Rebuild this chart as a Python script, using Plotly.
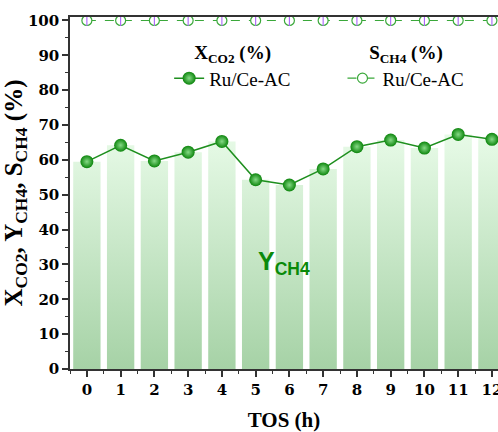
import plotly.graph_objects as go

tos = [0, 1, 2, 3, 4, 5, 6, 7, 8, 9, 10, 11, 12]
x_co2 = [59.5, 64.2, 59.7, 62.2, 65.3, 54.3, 52.8, 57.4, 63.8, 65.7, 63.4, 67.3, 65.9]
s_ch4 = [100, 100, 100, 100, 100, 100, 100, 100, 100, 100, 100, 100, 100]
y_ch4 = [59.5, 64.2, 59.7, 62.2, 65.3, 54.3, 52.8, 57.4, 63.8, 65.7, 63.4, 67.3, 65.9]
x_ticks = list(range(0, 13))
y_ticks = list(range(0, 101, 10))

BW = 0.81
serif = "DejaVu Serif"
times = "Liberation Serif"

# bar outlines built from the data (filled polygons with a vertical gradient)
bx, by = [], []
for xi, yi in zip(tos, y_ch4):
    bx += [xi - BW / 2, xi + BW / 2, xi + BW / 2, xi - BW / 2, xi - BW / 2, None]
    by += [0, 0, yi, yi, 0, None]

fig = go.Figure()
fig.add_trace(go.Scatter(
    x=bx, y=by, mode="lines", fill="toself", line=dict(width=0),
    fillgradient=dict(type="vertical", start=0, stop=68,
                      colorscale=[[0, "#a6d2a6"], [1, "#e8fbe8"]]),
    showlegend=False, hoverinfo="skip"))

fig.add_trace(go.Scatter(
    x=tos, y=x_co2, mode="lines+markers", name="Ru/Ce-AC",
    line=dict(color="#1e8f1e", width=1.5),
    marker=dict(size=13, color="#0c850c",
                gradient=dict(type="radial", color="#86da86"),
                line=dict(width=0)),
    legend="legend", cliponaxis=False))

fig.add_trace(go.Scatter(
    x=tos, y=s_ch4, mode="lines+markers", name="Ru/Ce-AC",
    line=dict(color="#3aa83a", width=1.2, dash="dash"),
    marker=dict(size=10, color="white", symbol="circle",
                line=dict(color="#3aa83a", width=1.2)),
    legend="legend2", cliponaxis=False))

fig.add_trace(go.Scatter(
    x=tos, y=s_ch4, mode="markers", showlegend=False, hoverinfo="skip",
    marker=dict(size=8, symbol="line-ns-open", line=dict(color="#3aa83a", width=1.1)),
    cliponaxis=False))

fig.add_annotation(x=5.85, y=30.5, xref="x", yref="y", showarrow=False,
                   text="<b>Y<sub>CH4</sub></b>",
                   font=dict(family="Liberation Sans", size=25, color="#0a8a0a"))

fig.update_layout(
    width=498, height=432,
    margin=dict(l=70, r=0, t=17, b=63),
    paper_bgcolor="white", plot_bgcolor="white",
    font=dict(family=serif, size=16, color="black"),
    xaxis=dict(range=[-0.5, 12.18], tickvals=x_ticks, showline=True, linecolor="#333",
               linewidth=1.5, mirror=True, ticks="outside", ticklen=6, tickwidth=1.5,
               tickcolor="#333", showgrid=False, zeroline=False, automargin=False,
               ticklabeloverflow="allow",
               minor=dict(dtick=0.5, tick0=0.5, ticks="outside", ticklen=3, tickwidth=1.2, tickcolor="#333"),
               tickfont=dict(family=serif, size=15, weight="bold"),
               title=dict(text="<b>TOS (h)</b>", font=dict(family=times, size=21), standoff=20)),
    yaxis=dict(range=[0, 101], tickvals=y_ticks, showline=True, linecolor="#333",
               linewidth=1.5, mirror=False, ticks="outside", ticklen=6, tickwidth=1.5,
               tickcolor="#333", showgrid=False, zeroline=False, automargin=False,
               minor=dict(dtick=5, ticks="outside", ticklen=3, tickwidth=1.2, tickcolor="#333"),
               tickfont=dict(family=serif, size=15, weight="bold"),
               title=dict(text="<b>X<sub>CO2</sub>, Y<sub>CH4</sub>, S<sub>CH4</sub> (%)</b>",
                          font=dict(family=times, size=25), standoff=8)),
    legend=dict(x=0.38, y=0.95, xanchor="center", yanchor="top", bgcolor="rgba(0,0,0,0)",
                title=dict(text="<b>X<sub>CO2</sub> (%)</b>", side="top center",
                           font=dict(family=times, size=19)),
                font=dict(family=times, size=19)),
    legend2=dict(x=0.785, y=0.95, xanchor="center", yanchor="top", bgcolor="rgba(0,0,0,0)",
                 title=dict(text="<b>S<sub>CH4</sub> (%)</b>", side="top center",
                            font=dict(family=times, size=19)),
                 font=dict(family=times, size=19)),
)

fig.write_html("out.html", config={"displayModeBar": False},
               post_script="document.body.style.margin='0';document.body.style.padding='0';document.body.style.overflow='hidden';")
